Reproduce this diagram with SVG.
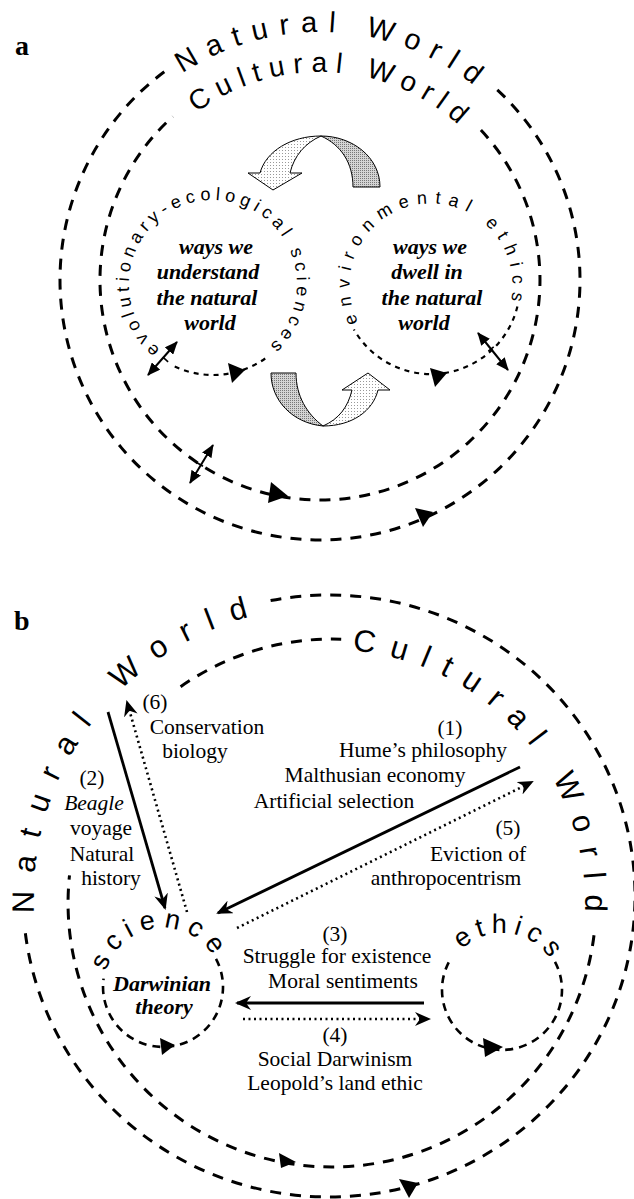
<svg xmlns="http://www.w3.org/2000/svg" width="634" height="1199" viewBox="0 0 634 1199">
<defs>
<style>
.ring{fill:none;stroke:#000;stroke-width:3;stroke-dasharray:11 9}
.inner{fill:none;stroke:#000;stroke-width:2.2;stroke-dasharray:5 5}
.cb{fill:none;stroke:#000;stroke-width:2.6;stroke-dasharray:8 6}
.solid{fill:none;stroke:#000;stroke-width:2.8}
.dot{fill:none;stroke:#000;stroke-width:2.6;stroke-dasharray:2 3.5}
.dbl{fill:none;stroke:#000;stroke-width:2}
.tick{stroke:#000;stroke-width:1.6}
.head{fill:#000}
.arc{font-family:"Liberation Sans",Arial,sans-serif;fill:#000}
.lab{font-family:"Liberation Serif","Times New Roman",serif;font-size:21.5px;fill:#000;text-anchor:middle}
.bi{font-family:"Liberation Serif","Times New Roman",serif;font-weight:bold;font-style:italic;font-size:22px;text-anchor:middle;fill:#000}
.panel{font-family:"Liberation Serif","Times New Roman",serif;font-weight:bold;font-size:28px;fill:#000}
.blk{stroke:#000;stroke-width:1}
</style>
<pattern id="pl" width="3" height="3" patternUnits="userSpaceOnUse"><rect width="3" height="3" fill="#fff"/><rect width="1" height="1" fill="#999"/></pattern>
<pattern id="pd" width="2" height="2" patternUnits="userSpaceOnUse"><rect width="2" height="2" fill="#d4d4d4"/><rect width="1" height="1" fill="#777"/></pattern>
<marker id="ah" viewBox="0 0 16 14" refX="14" refY="7" markerWidth="16" markerHeight="14" markerUnits="userSpaceOnUse" orient="auto"><path d="M0,0 L16,7 L0,14 L5,7 Z" fill="#000"/></marker>
<marker id="dh" viewBox="0 0 13 11" refX="12" refY="5.5" markerWidth="13" markerHeight="11" markerUnits="userSpaceOnUse" orient="auto-start-reverse"><path d="M0,0 L13,5.5 L0,11 Z" fill="#000"/></marker>
<path id="tpNatA" d="M182.4,73.7 A248,248 0 0 1 510,120.6"/>
<path id="tpCulA" d="M196.3,112.8 A208,208 0 0 1 490.4,160.7"/>
<path id="tpSciA" d="M160.1,349.3 A84,84 0 1 1 255,356.7"/>
<path id="tpEthA" d="M358.4,322 A81.5,81.5 0 1 1 504.9,319.4"/>
<path id="tpNatB" d="M34.5,913.2 A295,290 0 0 1 329,606"/>
<path id="tpCulB" d="M351.9,650.8 A253,253 0 0 1 576.4,968.5"/>
<path id="tpSciB" d="M106,971.7 A59,59 0 0 1 221.1,976.8"/>
<path id="tpEthB" d="M461.7,949.7 A57,57 0 0 1 557.1,975.2"/>
</defs>
<rect width="634" height="1199" fill="#fff"/>

<!-- Panel a -->
<text class="panel" x="15" y="55">a</text>

<g id="natural-world-a">
<path class="ring" d="M497.3,89.8 A260,260 0 1 1 165.3,71.0"/>
<text class="arc" font-size="29" letter-spacing="11.2"><textPath href="#tpNatA">Natural World</textPath></text>
<polygon class="head" points="415,508 433,512 423,527"/>
</g>

<g id="cultural-world-a">
<path class="ring" d="M480.9,130 A220,220 0 1 1 172.8,116.5"/>
<text class="arc" font-size="28" letter-spacing="8.2"><textPath href="#tpCulA">Cultural World</textPath></text>
<polygon class="head" points="271,482 268,503 288,496"/>
</g>

<g id="sciences-a">
<path class="inner" d="M265.2,358.5 A91,91 0 0 1 171.7,365.1"/>
<text class="arc" font-size="18" letter-spacing="4.8"><textPath href="#tpSciA">evolutionary-ecological sciences</textPath></text>
<polygon class="head" points="228,363 232,383 245,370"/>
<text class="bi" x="216" y="254">ways we</text>
<text class="bi" x="208" y="279">understand</text>
<text class="bi" x="207" y="305">the natural</text>
<text class="bi" x="210" y="330">world</text>
</g>

<g id="ethics-a">
<path class="inner" d="M517.4,306.5 A89,89 0 0 1 353.9,329.5"/>
<text class="arc" font-size="18" letter-spacing="7.6"><textPath href="#tpEthA">environmental ethics</textPath></text>
<polygon class="head" points="430,368 435,387 447,373"/>
<text class="bi" x="430" y="254">ways we</text>
<text class="bi" x="427" y="279">dwell in</text>
<text class="bi" x="432" y="305">the natural</text>
<text class="bi" x="424" y="330">world</text>
</g>

<g id="connectors-a">
<path class="blk" fill="url(#pd)" d="M353,187 C353,163 341,145 321,136 C352,136 380,157 380,187 Z"/>
<path class="blk" fill="url(#pl)" d="M321,136 C291,136 266,151 260,173 L248,173 L273,190 L302,173 L290,173 C294,156 305,143 321,136 Z"/>
<path class="blk" fill="url(#pd)" d="M271,373 C271,400 292,423 323,426 C307,414 296,396 296,373 Z"/>
<path class="blk" fill="url(#pl)" d="M323,426 C352,426 373,411 378,390 L390,390 L368,373 L342,390 L352,390 C348,407 339,419 323,426 Z"/>
<path class="dbl" d="M213,445 L190,483" marker-start="url(#dh)" marker-end="url(#dh)"/>
<line class="tick" x1="197" y1="462.7" x2="203" y2="466.3"/>
<path class="dbl" d="M177,342 L148,375" marker-start="url(#dh)" marker-end="url(#dh)"/>
<line class="tick" x1="162.9" y1="357.2" x2="168.1" y2="361.8"/>
<path class="dbl" d="M478,333 L508,370" marker-start="url(#dh)" marker-end="url(#dh)"/>
<line class="tick" x1="488.3" y1="351.2" x2="493.7" y2="346.8"/>
</g>

<!-- Panel b -->
<text class="panel" x="14" y="630">b</text>

<g id="natural-world-b">
<path class="ring" d="M270.6,600.5 A306,301 0 1 1 25.3,932.7"/>
<text class="arc" font-size="31" letter-spacing="17.2"><textPath href="#tpNatB">Natural World</textPath></text>
<polygon class="head" points="399,1179 418,1183 409,1198"/>
</g>

<g id="cultural-world-b">
<path class="ring" d="M594,935.2 A264,264 0 0 1 332,1167 A264,264 0 0 1 69.5,875.4"/>
<path class="ring" d="M180.6,686.7 A264,264 0 0 1 341.2,639.2"/>
<text class="arc" font-size="31" letter-spacing="14.6"><textPath href="#tpCulB">Cultural World</textPath></text>
<polygon class="head" points="279,1153 281,1168 296,1162"/>
</g>

<g id="science-b">
<path class="cb" d="M216,958.8 A60,60 0 1 1 103.6,978.6"/>
<text class="arc" font-size="27" letter-spacing="7.4"><textPath href="#tpSciB">science</textPath></text>
<polygon class="head" points="160,1038 162,1055 175,1045"/>
<text class="bi" x="162" y="991">Darwinian</text>
<text class="bi" x="164" y="1014">theory</text>
</g>

<g id="ethics-b">
<path class="cb" d="M555,961.8 A60,60 0 1 1 449,961.8"/>
<text class="arc" font-size="27" letter-spacing="6"><textPath href="#tpEthB">ethics</textPath></text>
<polygon class="head" points="483,1038 485,1057 503,1047"/>
</g>

<g id="connectors-b">
<path class="solid" d="M108,712 L165,908" marker-end="url(#ah)"/>
<path class="dot" d="M187,912 L127,702" marker-end="url(#ah)"/>
<path class="solid" d="M520,767 L218,913" marker-end="url(#ah)"/>
<path class="dot" d="M237,928 L532,782" marker-end="url(#ah)"/>
<path class="solid" d="M424,1003 L237,1003" marker-end="url(#ah)"/>
<path class="dot" d="M243,1019 L429,1019" marker-end="url(#ah)"/>
</g>

<g id="labels-b">
<text class="lab" x="155" y="709">(6)</text>
<text class="lab" x="207" y="734">Conservation</text>
<text class="lab" x="195" y="758">biology</text>
<text class="lab" x="92" y="785">(2)</text>
<text class="lab" x="94" y="810" font-style="italic">Beagle</text>
<text class="lab" x="101" y="835">voyage</text>
<text class="lab" x="102" y="861">Natural</text>
<text class="lab" x="111" y="885">history</text>
<text class="lab" x="450" y="735">(1)</text>
<text class="lab" x="423" y="757">Hume’s philosophy</text>
<text class="lab" x="375" y="782">Malthusian economy</text>
<text class="lab" x="334" y="808">Artificial selection</text>
<text class="lab" x="508" y="835">(5)</text>
<text class="lab" x="478" y="861">Eviction of</text>
<text class="lab" x="446" y="885">anthropocentrism</text>
<text class="lab" x="335" y="941">(3)</text>
<text class="lab" x="337" y="963">Struggle for existence</text>
<text class="lab" x="343" y="988">Moral sentiments</text>
<text class="lab" x="335" y="1042">(4)</text>
<text class="lab" x="335" y="1066">Social Darwinism</text>
<text class="lab" x="335" y="1090">Leopold’s land ethic</text>
</g>
</svg>
